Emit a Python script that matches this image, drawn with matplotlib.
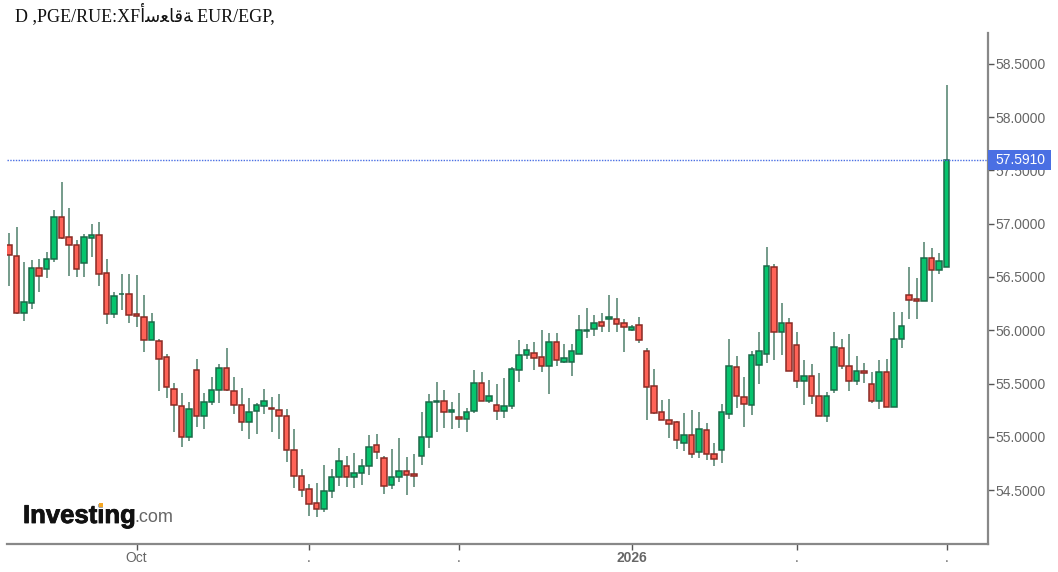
import matplotlib
matplotlib.use("Agg")
import matplotlib.pyplot as plt
import matplotlib.patheffects as pe
from matplotlib.patches import Rectangle

title = "D ,PGE/RUE:XFﺃﺳﻌﺎﻗﺔ EUR/EGP,"
last_price = 57.591
y_ticks = [54.5, 55.0, 55.5, 56.0, 56.5, 57.0, 57.5, 58.0, 58.5]
x_tick_idx = [17, 40, 60, 83, 105, 125]
x_tick_labels = ["Oct", ".", ".", "2026", ".", "."]

opens = [56.803,56.697,56.165,56.259,56.582,56.578,56.672,57.061,56.873,56.803,56.634,56.869,56.897,56.535,56.155,56.336,56.343,56.150,56.122,55.908,55.899,55.749,55.451,55.289,54.995,55.630,55.192,55.323,55.442,55.643,55.430,55.301,55.136,55.239,55.286,55.267,55.254,55.195,54.878,54.634,54.506,54.375,54.324,54.491,54.619,54.725,54.619,54.657,54.725,54.925,54.798,54.547,54.619,54.678,54.647,54.819,54.995,55.323,55.336,55.230,55.185,55.169,55.242,55.502,55.333,55.301,55.239,55.289,55.627,55.770,55.783,55.746,55.661,55.887,55.705,55.699,55.780,55.990,56.014,56.077,56.108,56.103,56.065,56.005,56.052,55.805,55.476,55.230,55.160,55.136,54.938,55.019,54.854,55.066,54.841,54.875,55.216,55.652,55.370,55.298,55.677,55.780,56.591,55.981,56.065,55.864,55.521,55.570,55.383,55.192,55.439,55.830,55.664,55.521,55.617,55.498,55.333,55.605,55.276,55.921,56.334,56.291,56.272,56.676,56.566,56.591]
highs = [56.910,56.972,56.644,56.660,56.669,56.738,57.129,57.395,57.145,56.847,56.901,56.995,57.019,56.666,56.362,56.525,56.525,56.516,56.328,56.159,55.915,55.774,55.502,55.408,55.329,55.727,55.408,55.564,55.683,55.830,55.564,55.455,55.361,55.314,55.445,55.376,55.399,55.258,55.070,54.694,54.556,54.563,54.732,54.694,54.891,54.822,54.845,54.791,55.014,55.023,54.819,54.882,54.985,54.813,54.838,55.235,55.401,55.517,55.439,55.329,55.411,55.267,55.627,55.611,55.533,55.492,55.549,55.658,55.906,55.868,55.892,55.999,55.974,55.974,55.871,55.868,56.140,56.206,56.140,56.159,56.328,56.300,56.103,56.046,56.127,55.830,55.633,55.342,55.354,55.148,55.220,55.248,55.235,55.126,54.938,55.305,55.915,55.761,55.564,55.808,55.986,56.785,56.619,56.253,56.112,55.986,55.718,55.680,55.596,55.417,55.986,55.915,55.962,55.761,55.690,55.611,55.718,55.727,56.174,56.174,56.597,56.488,56.831,56.769,56.722,58.303]
lows = [56.418,56.153,56.090,56.199,56.362,56.493,56.641,56.857,56.512,56.503,56.503,56.691,56.418,56.056,56.118,56.187,56.071,56.033,55.799,55.905,55.432,55.367,55.047,54.906,54.963,55.094,55.070,55.295,55.320,55.432,55.211,55.057,54.976,55.023,55.211,55.047,54.976,54.766,54.521,54.437,54.259,54.249,54.290,54.429,54.542,54.531,54.521,54.547,54.638,54.791,54.462,54.509,54.578,54.450,54.531,54.732,54.897,55.047,55.085,55.073,55.085,55.047,55.226,55.333,55.320,55.154,55.179,55.260,55.514,55.730,55.624,55.611,55.399,55.667,55.692,55.573,55.780,55.930,55.949,55.986,55.986,55.986,55.799,55.996,55.883,55.154,55.211,55.160,54.991,54.885,54.869,54.803,54.803,54.782,54.728,54.756,55.164,55.273,55.094,55.201,55.492,55.695,55.718,55.765,55.614,55.461,55.295,55.305,55.192,55.141,55.414,55.636,55.432,55.483,55.507,55.320,55.258,55.276,55.276,55.836,56.103,56.103,56.272,56.268,56.525,56.591]
closes = [56.707,56.165,56.262,56.582,56.507,56.666,57.061,56.869,56.800,56.578,56.873,56.897,56.528,56.155,56.322,56.345,56.143,56.134,55.908,56.075,55.730,55.464,55.298,54.995,55.263,55.192,55.323,55.442,55.643,55.439,55.298,55.136,55.230,55.301,55.336,55.258,55.192,54.875,54.629,54.497,54.371,54.324,54.491,54.619,54.772,54.619,54.657,54.725,54.901,54.854,54.535,54.619,54.678,54.641,54.631,54.995,55.323,55.336,55.230,55.254,55.169,55.230,55.502,55.333,55.383,55.239,55.289,55.633,55.770,55.817,55.742,55.661,55.887,55.721,55.737,55.805,56.005,56.005,56.065,56.037,56.124,56.061,56.028,56.028,55.908,55.464,55.226,55.160,55.122,54.972,55.019,54.841,55.076,54.841,54.794,55.230,55.664,55.380,55.310,55.770,55.805,56.603,55.981,56.065,55.614,55.521,55.570,55.380,55.192,55.383,55.840,55.661,55.521,55.614,55.601,55.333,55.605,55.276,55.921,56.040,56.284,56.272,56.676,56.566,56.650,57.600]

GREEN, GREEN_EDGE = "#06c46e", "#1a6a48"
RED, RED_EDGE = "#ff6257", "#8a2a24"
WICK = "#14563a"
GRAY = "#666666"
SPINE = "#888888"
W, H = 1058, 572
L, R_, T, B = 7, 988, 33, 544

fig = plt.figure(figsize=(W / 100, H / 100), dpi=100, facecolor="white")
ax = fig.add_axes([L / W, 1 - B / H, (R_ - L) / W, (B - T) / H])
ax.set_xlim(-0.267, 130.53)
ax.set_ylim(53.993, 58.791)
for s in ("top", "left"):
    ax.spines[s].set_visible(False)
for s in ("right", "bottom"):
    ax.spines[s].set_color(SPINE)
    ax.spines[s].set_linewidth(1.6)
ax.yaxis.tick_right()

for i, (o, h, l, c) in enumerate(zip(opens, highs, lows, closes)):
    up = c >= o
    ax.vlines(i, l, h, color=WICK, lw=1.1, zorder=2, alpha=0.75)
    ax.bar(i, abs(c - o), bottom=min(o, c), width=0.68,
           color=GREEN if up else RED, edgecolor=GREEN_EDGE if up else RED_EDGE,
           linewidth=1.1, zorder=3)

ax.axhline(closes[-1], color="#4a6fe3", lw=1.0, ls=(0, (1, 1)), zorder=4)

ax.set_yticks(y_ticks)
ax.set_yticklabels([f"{v:.4f}" for v in y_ticks], family="Liberation Sans", fontsize=10, color=GRAY)
ax.tick_params(axis="y", length=4, width=1, color="#555555", pad=1.2)
ax.set_xticks(x_tick_idx)
ax.set_xticklabels(x_tick_labels, family="Liberation Sans", fontsize=10, color=GRAY)
ax.tick_params(axis="x", length=4, width=1, color="#555555", pad=1)
for lab, txt in zip(ax.get_xticklabels(), x_tick_labels):
    if txt == "2026":
        lab.set_fontweight("bold")


def fx(px):
    return px / W


def fy(py):
    return 1 - py / H


fig.add_artist(Rectangle((fx(988), fy(170)), 63 / W, 20 / H, transform=fig.transFigure,
                         facecolor="#4a6fe3", edgecolor="none", zorder=5))
fig.text(fx(995.5), fy(160.5), f"{last_price:.4f}", color="white", fontsize=10, va="center",
         ha="left", family="Liberation Sans", zorder=6)

fig.text(fx(15), fy(14), title, family=["Liberation Serif", "DejaVu Sans"], fontsize=13,
         color="#111111", va="center", ha="left")

fig.text(fx(23), fy(516), "Investing", family="Liberation Sans", fontweight="bold", fontsize=18.5,
         color="#111111", va="center", ha="left",
         path_effects=[pe.withStroke(linewidth=0.6, foreground="#111111")])
fig.text(fx(134), fy(518), ".com", family="Liberation Sans", fontsize=13, color="#666666",
         va="center", ha="left")
fig.add_artist(Rectangle((fx(98.5), fy(507)), 4 / W, 4 / H, transform=fig.transFigure,
                         facecolor="#f5a623", edgecolor="none", zorder=7))

fig.savefig("out.png", dpi=100, facecolor="white")
